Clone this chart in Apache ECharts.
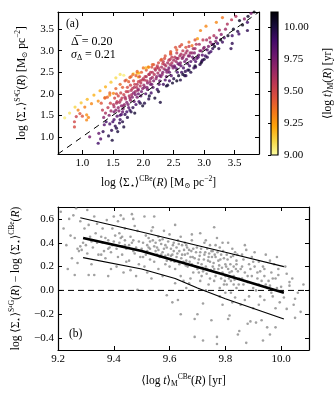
<!DOCTYPE html>
<html>
<head>
<meta charset="utf-8">
<script src="https://cdn.jsdelivr.net/npm/echarts@6/dist/echarts.min.js"></script>
<style>
html, body { margin: 0; padding: 0; background: #fff; }
#main { width: 334px; height: 400px; }
</style>
</head>
<body>
<div id="main"></div>
<script>
// panel (a): [log Sigma CBe, log Sigma S4G, <log t>_M]
const leftTracks = [
    [0.71,1.44,9.05],[0.79,1.55,9.08],[0.88,1.69,9.12],[0.98,1.79,9.15],[1.08,1.87,9.18],[1.19,1.97,9.2],
    [1.29,2.07,9.22],[1.38,2.16,9.2],[1.47,2.27,9.15],[1.55,2.37,9.1],[1.62,2.45,9.08],[1.68,2.43,9.05],
    [1.84,2.47,9.04],[1.9,2.48,9.22],[1.92,2.39,9.25],[2.09,2.62,9.28],
    [0.93,1.62,9.3],[1.04,1.69,9.32],[1.15,1.77,9.3],[1.26,1.83,9.28],[1.37,1.91,9.3],[1.45,1.97,9.28],[1.51,2.01,9.3],
    [0.87,1.35,9.5],[0.87,1.23,9.48],[0.96,1.54,9.45],[0.9,1.47,9.52],[1.0,1.48,9.45],
    [1.07,1.39,9.3],[1.07,1.51,9.28],[1.1,1.45,9.3],
    [1.12,1.0,9.75],[1.26,0.85,9.9],[1.3,0.95,9.85],[1.27,1.08,9.8]
];
const mainBand = [
    [1.31,1.78,9.45],[1.33,1.62,9.55],[1.35,1.45,9.7],[1.36,1.28,9.85],[1.38,1.55,9.62],[1.34,1.12,9.95],[1.39,1.35,9.9],[1.37,1.9,9.4],
    [1.41,1.92,9.4],[1.42,1.68,9.55],[1.43,1.02,9.98],[1.44,1.5,9.72],[1.45,1.3,9.88],[1.46,1.78,9.5],[1.47,1.6,9.65],[1.48,1.15,9.95],[1.49,0.92,10.0],[1.45,2.02,9.38],
    [1.51,1.75,9.58],[1.52,1.4,9.88],[1.53,1.9,9.5],[1.54,1.25,9.95],[1.55,1.62,9.7],[1.56,2.0,9.45],[1.57,1.82,9.55],[1.58,1.12,10.0],[1.59,1.68,9.68],[1.55,2.12,9.4],[1.52,1.58,9.75],[1.57,1.48,9.85],[1.59,1.95,9.5],
    [1.61,1.8,9.6],[1.62,1.4,9.92],[1.63,2.02,9.5],[1.64,1.52,9.85],[1.65,1.9,9.55],[1.66,2.15,9.42],[1.67,1.65,9.75],[1.68,1.23,10.0],[1.68,1.98,9.52],[1.69,1.75,9.68],[1.62,2.22,9.38],[1.66,1.58,9.8],[1.64,1.72,9.7],[1.61,1.32,9.95],
    [1.71,1.88,9.6],[1.72,2.05,9.52],[1.73,1.58,9.9],[1.74,2.15,9.48],[1.75,1.75,9.75],[1.76,2.28,9.42],[1.77,1.95,9.6],[1.78,1.62,9.92],[1.79,2.2,9.5],[1.79,1.85,9.68],[1.72,2.32,9.38],[1.76,1.68,9.82],[1.78,2.38,9.4],[1.74,1.45,9.98],
    [1.81,1.98,9.62],[1.82,2.12,9.55],[1.83,1.68,9.95],[1.84,2.3,9.48],[1.85,1.82,9.82],[1.86,2.22,9.52],[1.87,2.05,9.65],[1.88,2.42,9.42],[1.88,1.75,9.9],[1.89,2.15,9.58],[1.83,2.45,9.35],[1.86,1.55,10.02],[1.9,1.92,9.75],[1.84,2.02,9.7],
    [1.91,2.08,9.65],[1.92,2.28,9.52],[1.93,1.82,9.9],[1.94,2.4,9.48],[1.95,2.18,9.6],[1.96,1.95,9.82],[1.97,2.5,9.42],[1.98,2.32,9.55],[1.99,1.72,10.02],[1.99,2.12,9.7],[1.93,2.48,9.2],[1.96,2.25,9.58],[1.92,2.0,9.78],
    [2.01,2.2,9.65],[2.02,1.78,9.98],[2.03,2.4,9.52],[2.04,2.0,9.85],[2.05,2.55,9.45],[2.06,2.3,9.6],[2.07,2.1,9.78],[2.08,2.62,9.3],[2.09,2.45,9.55],[2.09,1.88,9.95],[2.04,2.6,9.18],[2.06,2.15,9.72],[2.02,2.32,9.58],
    [2.11,2.28,9.65],[2.12,2.5,9.55],[2.13,2.02,9.9],[2.14,2.62,9.48],[2.15,2.38,9.62],[2.16,2.15,9.82],[2.17,2.68,9.45],[2.18,2.45,9.58],[2.19,1.9,10.02],[2.19,2.58,9.52],[2.14,2.22,9.75],[2.12,2.35,9.68],
    [2.21,2.35,9.68],[2.22,2.6,9.52],[2.23,2.1,9.92],[2.24,2.48,9.62],[2.25,2.72,9.48],[2.26,2.22,9.85],[2.27,2.55,9.6],[2.28,1.8,10.0],[2.29,2.4,9.72],[2.29,2.78,9.45],[2.23,2.65,9.55],[2.27,2.3,9.8],
    [2.31,2.45,9.7],[2.32,2.7,9.52],[2.33,2.22,9.92],[2.34,2.58,9.62],[2.35,2.82,9.48],[2.36,2.32,9.85],[2.37,2.65,9.6],[2.38,2.18,10.0],[2.39,2.5,9.72],[2.36,2.88,9.45],[2.33,2.75,9.55],[2.38,2.4,9.8],
    [2.41,2.55,9.7],[2.42,2.78,9.55],[2.43,2.3,9.92],[2.44,2.68,9.62],[2.45,2.92,9.5],[2.46,2.42,9.85],[2.47,2.72,9.6],[2.48,2.25,10.02],[2.49,2.6,9.72],[2.45,2.98,9.45],[2.43,2.5,9.8],[2.47,2.85,9.55],
    [2.51,2.65,9.72],[2.52,2.85,9.58],[2.53,3.08,9.45],[2.54,2.75,9.65],[2.55,2.95,9.55],[2.56,2.5,9.9],[2.57,2.82,9.6],[2.58,2.42,10.02],[2.59,2.68,9.75],[2.55,2.58,9.85],[2.6,3.1,9.5],
    [2.61,2.72,9.72],[2.62,2.92,9.6],[2.63,2.5,9.92],[2.63,3.14,9.45],[2.64,2.82,9.68],[2.65,3.0,9.55],[2.66,2.6,9.88],[2.67,2.9,9.62],[2.68,2.42,10.0],[2.69,2.52,9.95],[2.61,2.32,9.98],
    [2.71,2.8,9.75],[2.72,3.0,9.62],[2.73,2.55,9.95],[2.74,2.88,9.7],[2.75,3.1,9.55],[2.76,2.65,9.9],[2.77,2.95,9.65],[2.78,2.5,9.98],[2.8,3.12,9.35],[2.7,2.42,9.95],
    [2.81,2.85,9.78],[2.82,3.05,9.62],[2.83,2.6,9.95],[2.84,2.95,9.72],[2.86,2.62,9.92],[2.87,3.15,9.58],[2.88,2.82,9.8],[2.89,3.28,9.25],[2.86,2.75,9.88],
    [2.91,2.9,9.78],[2.92,3.15,9.62],[2.93,2.68,9.95],[2.94,3.47,9.3],[2.95,3.0,9.72],[2.96,2.75,9.9],[2.97,2.78,9.95],[2.98,3.25,9.55],[2.99,3.05,9.7],
    [3.02,2.88,9.92],[3.03,3.57,9.3],[3.04,3.25,9.62],[3.05,2.85,9.95],[3.07,3.1,9.75],[3.08,2.95,9.95],[3.09,3.3,9.58],
    [3.11,2.98,9.9],[3.13,3.15,9.7],[3.14,3.05,9.95],[3.16,3.35,9.6],[3.17,3.1,10.05],[3.19,3.22,9.75],[3.2,3.66,9.3],
    [3.22,3.17,9.9],[3.24,3.05,9.95],[3.25,3.48,9.62],[3.27,3.25,10.08],[3.28,3.38,9.7],[3.3,3.2,9.92],[3.3,3.77,9.35],
    [3.33,3.3,9.85],[3.35,3.5,9.65],[3.38,3.62,9.6],[3.39,3.35,10.05],[3.44,3.05,9.95],[3.46,3.17,9.95],[3.46,3.35,9.9],[3.48,3.5,10.05],[3.45,3.72,9.55],
    [3.52,3.8,9.6],[3.55,3.45,9.95],[3.57,3.39,9.9],[3.58,3.7,10.05],[3.63,3.6,10.08],[3.66,3.74,9.7],[3.71,3.66,9.9],[3.71,3.47,9.95],[3.72,3.8,10.05],[3.82,3.9,10.1],[3.77,3.87,9.75]
];
// denser core of the band, plus its dark lower edge and red upper edge
const bandCore = [
    [1.52,1.7,9.62],[1.56,1.78,9.6],[1.6,1.6,9.72],[1.63,1.85,9.58],[1.67,1.72,9.7],[1.7,1.92,9.62],[1.73,1.8,9.72],[1.75,2.05,9.55],
    [1.78,1.9,9.66],[1.8,2.08,9.58],[1.82,1.92,9.72],[1.85,2.15,9.6],[1.87,1.98,9.74],[1.9,2.22,9.58],[1.92,2.1,9.68],[1.95,2.3,9.55],
    [1.97,2.05,9.78],[2.0,2.35,9.58],[2.02,2.15,9.72],[2.05,2.4,9.6],[2.07,2.25,9.68],[2.1,2.45,9.6],[2.12,2.22,9.75],[2.15,2.5,9.58],
    [2.17,2.3,9.72],[2.2,2.55,9.6],[2.22,2.4,9.7],[2.25,2.6,9.58],[2.27,2.42,9.75],[2.3,2.62,9.62],[2.32,2.5,9.72],[2.35,2.68,9.6],
    [2.37,2.55,9.75],[2.4,2.72,9.62],[2.42,2.6,9.75],[2.44,2.8,9.58],[2.47,2.65,9.72],[2.5,2.78,9.62],[2.52,2.62,9.8],[2.55,2.82,9.65],
    [2.57,2.7,9.75],[2.6,2.88,9.62],[2.62,2.65,9.82],[2.65,2.85,9.68],[2.68,2.75,9.78],[2.7,2.95,9.62],[2.73,2.7,9.85],[2.76,2.88,9.72],
    [2.78,2.75,9.85],[2.8,2.95,9.68],[2.83,2.8,9.82],[2.85,3.05,9.65],[2.9,2.85,9.85],[2.93,3.0,9.72],[2.97,2.9,9.85],[3.0,3.08,9.72],
    [3.05,3.02,9.85],[3.1,3.2,9.7],[3.15,3.15,9.88],[3.2,3.3,9.72],
    [1.5,1.35,9.9],[1.56,1.2,9.98],[1.62,1.5,9.88],[1.66,1.35,9.98],[1.7,1.52,9.95],[1.8,1.58,9.98],[1.95,1.78,9.98],[2.1,1.95,10.0],
    [2.25,2.05,10.02],[2.4,2.2,10.0],[2.5,2.35,9.98],[2.55,2.3,10.05],[2.65,2.45,10.02],[2.75,2.55,10.0],[2.85,2.65,10.02],[2.95,2.72,10.05],[3.0,2.8,10.03],
    [1.7,2.3,9.45],[1.8,2.4,9.4],[1.9,2.52,9.38],[2.0,2.6,9.35],[2.15,2.68,9.4],[2.3,2.8,9.42],[2.45,2.95,9.4],[2.55,3.02,9.42],
    [2.7,3.08,9.45],[2.75,3.2,9.4],[2.85,3.25,9.45]
];
const oneToOne = [[0.6, 0.6], [3.9, 3.9]];

// panel (b): [<log t>_M CBe, delta]
const deltaPoints = [
    [9.21,0.66],[9.22,0.52],[9.23,0.38],[9.24,0.6],[9.245,0.46],[9.25,0.27],[9.235,0.18],
    [9.255,0.63],[9.265,0.69],[9.26,0.44],[9.26,0.13],[9.27,0.35],[9.275,0.33],[9.28,0.37],[9.285,0.34],[9.29,0.4],[9.295,0.52],[9.28,0.58],[9.27,0.23],
    [9.305,0.675],[9.31,0.55],[9.3,0.38],[9.31,0.13],[9.32,0.41],[9.315,0.45],[9.325,0.36],[9.33,0.13],[9.335,0.48],[9.34,0.56],[9.345,0.3],[9.33,0.62],[9.32,0.22],[9.34,0.4],[9.305,0.31],
    [9.355,0.3],[9.36,0.52],[9.365,0.33],[9.37,0.27],[9.375,0.59],[9.38,0.42],[9.385,0.36],[9.39,0.32],[9.395,0.52],[9.4,0.62],[9.37,0.44],[9.39,0.18],[9.36,0.4],[9.38,0.12],[9.395,0.38],[9.355,0.45],
    [9.405,0.46],[9.41,0.35],[9.415,0.58],[9.42,0.4],[9.425,0.63],[9.43,0.3],[9.435,0.6],[9.44,0.42],[9.445,0.24],[9.41,0.2],[9.42,0.48],[9.43,0.37],[9.44,0.52],[9.415,0.28],[9.445,0.35],[9.425,0.44],[9.435,0.15],
    [9.455,0.38],[9.46,0.17],[9.465,0.64],[9.47,0.6],[9.475,0.54],[9.48,0.12],[9.485,0.005],[9.49,0.41],[9.46,0.45],[9.47,0.33],[9.48,0.36],[9.495,0.28],[9.455,0.25],[9.465,0.4],[9.485,0.5],[9.49,0.22],[9.475,0.31],[9.5,0.35],
    [9.505,0.4],[9.51,0.62],[9.515,0.3],[9.52,0.38],[9.525,0.44],[9.53,0.26],[9.535,0.5],[9.54,0.53],[9.545,0.62],[9.55,0.33],[9.51,0.2],[9.52,0.15],[9.53,0.35],[9.54,0.42],[9.505,0.28],[9.545,0.24],[9.525,0.36],[9.515,0.46],[9.535,0.1],[9.55,0.4],
    [9.555,0.36],[9.56,0.45],[9.565,0.28],[9.57,0.39],[9.575,0.32],[9.58,0.5],[9.585,0.22],[9.59,-0.04],[9.595,0.41],[9.6,0.47],[9.56,0.18],[9.57,0.3],[9.58,0.35],[9.59,0.25],[9.565,0.42],[9.575,0.12],[9.555,0.3],[9.585,0.38],[9.595,0.3],[9.6,0.2],
    [9.605,0.35],[9.61,-0.1],[9.615,0.4],[9.62,0.55],[9.625,0.28],[9.63,-0.08],[9.635,0.33],[9.64,-0.2],[9.645,0.38],[9.65,0.24],[9.61,0.3],[9.62,0.18],[9.63,0.42],[9.64,0.12],[9.605,0.25],[9.615,0.33],[9.625,0.36],[9.635,0.22],[9.645,0.3],[9.65,0.08],[9.62,0.06],[9.64,0.45],
    [9.655,0.3],[9.66,0.38],[9.665,0.2],[9.67,0.34],[9.675,0.28],[9.68,0.42],[9.685,0.15],[9.69,-0.24],[9.69,-0.39],[9.695,0.32],[9.7,-0.2],[9.66,0.25],[9.67,0.06],[9.68,0.22],[9.685,0.35],[9.655,0.4],[9.665,0.31],[9.675,0.1],[9.69,0.27],[9.7,0.18],[9.68,0.47],[9.66,0.02],
    [9.705,0.26],[9.71,0.48],[9.715,0.12],[9.72,-0.11],[9.72,-0.42],[9.725,0.3],[9.73,0.2],[9.735,0.35],[9.74,0.05],[9.745,0.24],[9.75,-0.25],[9.705,0.15],[9.71,0.32],[9.715,0.22],[9.725,0.4],[9.73,0.0],[9.735,0.18],[9.74,0.28],[9.745,0.1],[9.75,0.33],[9.72,0.16],[9.73,0.42],[9.71,0.08],[9.745,0.38],
    [9.755,0.2],[9.76,0.53],[9.765,0.12],[9.77,0.44],[9.77,-0.39],[9.77,-0.45],[9.775,0.25],[9.78,-0.05],[9.785,0.3],[9.79,0.15],[9.795,0.05],[9.8,0.22],[9.755,0.33],[9.76,0.08],[9.765,0.28],[9.775,0.18],[9.78,0.36],[9.785,0.1],[9.79,-0.12],[9.795,0.27],[9.8,0.12],[9.76,0.18],[9.78,0.02],[9.79,0.4],[9.8,-0.02],[9.765,0.38],
    [9.805,0.3],[9.81,-0.24],[9.815,-0.21],[9.815,0.15],[9.82,0.08],[9.825,0.35],[9.83,0.2],[9.835,-0.06],[9.84,0.25],[9.845,-0.37],[9.85,-0.34],[9.805,0.05],[9.81,0.18],[9.82,0.28],[9.825,-0.1],[9.83,0.12],[9.835,0.32],[9.84,0.02],[9.845,0.16],[9.85,0.1],[9.81,0.4],[9.82,-0.02],[9.83,0.05],[9.84,0.22],
    [9.855,0.18],[9.86,0.3],[9.865,0.05],[9.87,-0.08],[9.875,-0.44],[9.88,-0.28],[9.885,0.22],[9.89,-0.26],[9.895,0.12],[9.9,0.02],[9.855,-0.12],[9.86,0.1],[9.865,0.26],[9.87,0.15],[9.875,0.34],[9.88,0.07],[9.885,-0.05],[9.89,0.18],[9.895,0.28],[9.9,-0.15],[9.87,0.38],
    [9.905,0.2],[9.91,-0.27],[9.915,0.1],[9.92,0.24],[9.925,-0.05],[9.93,-0.25],[9.935,-0.42],[9.94,0.12],[9.945,0.05],[9.95,-0.31],[9.905,0.32],[9.91,0.0],[9.915,0.15],[9.92,-0.12],[9.93,0.08],[9.935,0.2],[9.94,-0.08],[9.945,0.3],[9.95,0.02],[9.925,0.16],
    [9.955,0.08],[9.96,-0.37],[9.965,0.15],[9.97,-0.05],[9.975,0.22],[9.98,-0.31],[9.985,0.02],[9.99,0.13],[9.995,-0.1],[10.0,0.03],[9.96,0.25],[9.97,0.1],[9.98,-0.15],[9.99,0.18],[9.965,-0.02],[9.985,0.28],
    [10.01,-0.06],[10.02,0.14],[10.02,-0.155],[10.03,0.07],[10.03,0.04],[10.04,0.1],[10.05,-0.07],[10.05,-0.23],[10.06,-0.02],[10.07,-0.18],[10.08,0.05],[10.015,0.2],[10.045,-0.12]
];
// the dense clump between the thin lines
const deltaCore = [
    [9.605,0.29],[9.612,0.38],[9.618,0.24],[9.628,0.31],[9.633,0.39],[9.642,0.27],[9.652,0.34],[9.658,0.21],[9.663,0.36],[9.672,0.24],
    [9.678,0.33],[9.683,0.28],[9.692,0.2],[9.698,0.36],[9.702,0.23],[9.708,0.29],[9.713,0.35],[9.718,0.19],[9.723,0.26],[9.728,0.32],
    [9.733,0.14],[9.738,0.25],[9.742,0.31],[9.748,0.17],[9.752,0.28],[9.758,0.23],[9.762,0.3],[9.768,0.15],[9.772,0.32],[9.778,0.21],
    [9.782,0.26],[9.788,0.19],[9.792,0.33],[9.798,0.08],[9.803,0.2],[9.808,0.26],[9.813,0.1],[9.818,0.22],[9.823,0.16],[9.828,0.29],
    [9.833,0.09],[9.838,0.18],[9.843,0.3],[9.848,0.05],[9.52,0.33],[9.53,0.41],[9.545,0.37],[9.56,0.34],[9.575,0.43],[9.585,0.29],
    [9.59,0.36],[9.47,0.42],[9.44,0.38],[9.43,0.45],[9.4,0.41],[9.38,0.35],[9.86,0.2],[9.88,0.12],[9.9,0.24],[9.92,0.05],
    [9.94,0.18],[9.96,0.04],[9.98,0.1]
];
const medianLine = [[9.29,0.44],[9.5,0.33],[9.8,0.13],[10.01,-0.02]];
const upperLine = [[9.28,0.61],[9.5,0.49],[9.8,0.32],[10.01,0.2]];
const lowerLine = [[9.29,0.275],[9.5,0.18],[9.62,0.1],[9.7,0.02],[9.8,-0.07],[10.01,-0.24]];
const zeroLine = [[9.2,0],[10.1,0]];

// ticks
const ticksA = [1.0, 1.5, 2.0, 2.5, 3.0, 3.5];
const ticksBx = [9.2, 9.4, 9.6, 9.8, 10.0];
const ticksBy = [-0.4, -0.2, 0.0, 0.2, 0.4, 0.6];
const ticksCbar = [9.0, 9.25, 9.5, 9.75, 10.0];
const cbarRange = [9.0, 10.12];

// inferno, reversed (young = light)
const infernoR = ['#fcffa4','#f6d746','#fca50a','#f37819','#dd513a','#bc3754','#932667','#6a176e','#420a68','#160b39','#000004'];

const serif = '"Liberation Serif", "DejaVu Serif", serif';
const rich = {
    sup: { fontFamily: serif, fontSize: 7.5, lineHeight: 8, verticalAlign: 'top', color: '#000' },
    sub: { fontFamily: serif, fontSize: 7.5, lineHeight: 8, verticalAlign: 'bottom', color: '#000' },
    i: { fontFamily: serif, fontSize: 11.5, lineHeight: 15, fontStyle: 'italic', color: '#000' }
};
const nameStyle = { fontFamily: serif, fontSize: 11.5, lineHeight: 15, color: '#000', rich: rich };
const line = { color: '#000', width: 1.2 };
const tickStyle = { color: '#000', width: 1 };
const lab = { fontFamily: serif, fontSize: 11, color: '#000' };
const fmt1 = v => v.toFixed(1).replace('-', '\u2212');

function axis(grid, pos, lo, hi, ticks, withLabels, fmt) {
    return {
        gridIndex: grid, type: 'value', position: pos, min: lo, max: hi,
        axisLine: { show: true, onZero: false, lineStyle: line },
        axisTick: { show: true, inside: true, length: 4, customValues: ticks, lineStyle: tickStyle },
        axisLabel: withLabels ? Object.assign({ show: true, customValues: ticks, formatter: fmt, margin: 4 }, lab) : { show: false },
        splitLine: { show: false }
    };
}

const xA = axis(0, 'bottom', 0.6, 3.9, ticksA, true, fmt1);
xA.name = 'log ⟨Σ{sub|⋆}⟩{sup|CBe}({i|R}) [M{sub|⊙} pc{sup|−2}]';
xA.nameLocation = 'middle'; xA.nameGap = 21; xA.nameTextStyle = nameStyle;
const yA = axis(0, 'left', 0.6, 3.9, ticksA, true, fmt1);
yA.name = 'log ⟨Σ{sub|⋆}⟩{sup|S⁴G}({i|R}) [M{sub|⊙} pc{sup|−2}]';
yA.nameLocation = 'middle'; yA.nameGap = 24; yA.nameRotate = 90; yA.nameTextStyle = nameStyle;

const xB = axis(1, 'bottom', 9.2, 10.1, ticksBx, true, fmt1);
xB.name = '⟨log {i|t}⟩{sub|M}{sup|CBe}({i|R}) [yr]';
xB.nameLocation = 'middle'; xB.nameGap = 23; xB.nameTextStyle = nameStyle;
const yB = axis(1, 'left', -0.5, 0.7, ticksBy, true, fmt1);
yB.name = 'log ⟨Σ{sub|⋆}⟩{sup|S⁴G}({i|R}) − log ⟨Σ{sub|⋆}⟩{sup|CBe}({i|R})';
yB.nameLocation = 'middle'; yB.nameGap = 34; yB.nameRotate = 90;
yB.nameTextStyle = Object.assign({}, nameStyle, { fontSize: 11.5 });

const yC = axis(2, 'right', cbarRange[0], cbarRange[1], ticksCbar, true, v => v.toFixed(2));
yC.axisLine = { show: false };
yC.axisTick.length = 3;
yC.axisLabel.margin = 6;
yC.name = '⟨log {i|t}⟩{sub|M}({i|R}) [yr]';
yC.nameLocation = 'middle'; yC.nameGap = 42; yC.nameRotate = 90; yC.nameTextStyle = nameStyle;

const chart = echarts.init(document.getElementById('main'), null, { renderer: 'canvas' });

chart.setOption({
    animation: false,
    backgroundColor: '#fff',
    grid: [
        { left: 58, top: 12, width: 201, height: 142, containLabel: false, outerBoundsMode: 'none' },
        { left: 58, top: 207, width: 251, height: 143, containLabel: false, outerBoundsMode: 'none' },
        { left: 271, top: 12, width: 7, height: 143, containLabel: false, outerBoundsMode: 'none' }
    ],
    xAxis: [
        xA,
        axis(0, 'top', 0.6, 3.9, ticksA, false),
        xB,
        axis(1, 'top', 9.2, 10.1, ticksBx, false),
        { gridIndex: 2, type: 'value', min: 0, max: 1, show: false }
    ],
    yAxis: [
        yA,
        axis(0, 'right', 0.6, 3.9, ticksA, false),
        yB,
        axis(1, 'right', -0.5, 0.7, ticksBy, false),
        yC
    ],
    visualMap: [{
        type: 'continuous', show: false, seriesIndex: [0, 1, 2], dimension: 2,
        min: cbarRange[0], max: cbarRange[1], inRange: { color: infernoR }
    }],
    series: [
        { type: 'scatter', xAxisIndex: 0, yAxisIndex: 0, data: leftTracks, symbolSize: 3.2, silent: true },
        { type: 'scatter', xAxisIndex: 0, yAxisIndex: 0, data: mainBand, symbolSize: 3.2, silent: true },
        { type: 'scatter', xAxisIndex: 0, yAxisIndex: 0, data: bandCore, symbolSize: 3.2, silent: true },
        { type: 'line', xAxisIndex: 0, yAxisIndex: 0, data: oneToOne, symbol: 'none', silent: true, z: 5,
          lineStyle: { color: '#000', width: 1, type: [6, 5] } },
        { type: 'scatter', xAxisIndex: 2, yAxisIndex: 2, data: deltaPoints, symbolSize: 2.6, silent: true,
          itemStyle: { color: '#8a8a8a' } },
        { type: 'scatter', xAxisIndex: 2, yAxisIndex: 2, data: deltaCore, symbolSize: 2.6, silent: true,
          itemStyle: { color: '#8a8a8a' } },
        { type: 'line', xAxisIndex: 2, yAxisIndex: 2, data: zeroLine, symbol: 'none', silent: true, z: 4,
          lineStyle: { color: '#000', width: 1, type: [6, 4] } },
        { type: 'line', xAxisIndex: 2, yAxisIndex: 2, data: medianLine, symbol: 'none', silent: true, z: 5,
          lineStyle: { color: '#000', width: 2.6 } },
        { type: 'line', xAxisIndex: 2, yAxisIndex: 2, data: upperLine, symbol: 'none', silent: true, z: 5,
          lineStyle: { color: '#000', width: 1.2 } },
        { type: 'line', xAxisIndex: 2, yAxisIndex: 2, data: lowerLine, symbol: 'none', silent: true, z: 5,
          lineStyle: { color: '#000', width: 1.2 } },
        {
            // colour bar
            type: 'custom', xAxisIndex: 4, yAxisIndex: 4, data: [[0, cbarRange[0]]], silent: true, z: 1,
            renderItem: function (params, api) {
                const lo = api.coord([0, cbarRange[0]]);
                const hi = api.coord([1, cbarRange[1]]);
                return {
                    type: 'rect',
                    shape: { x: lo[0], y: hi[1], width: hi[0] - lo[0], height: lo[1] - hi[1] },
                    style: {
                        fill: new echarts.graphic.LinearGradient(0, 1, 0, 0,
                            infernoR.map((c, k) => ({ offset: k / (infernoR.length - 1), color: c }))),
                        stroke: '#000', lineWidth: 1.2
                    }
                };
            }
        }
    ],
    graphic: [
        { type: 'text', left: 66, top: 18, style: { text: '(a)', fontFamily: serif, fontSize: 11.5, fill: '#000' } },
        { type: 'text', left: 71, top: 36, style: { text: 'Δ̅ = 0.20', fontFamily: serif, fontSize: 12, fill: '#000' } },
        { type: 'text', left: 71, top: 49, style: {
            text: '{i|σ}{sub|Δ} = 0.21', fontFamily: serif, fontSize: 12, fill: '#000',
            rich: {
                i: { fontFamily: serif, fontSize: 12, fontStyle: 'italic', lineHeight: 14 },
                sub: { fontFamily: serif, fontSize: 8, lineHeight: 8, verticalAlign: 'bottom' }
            } } },
        { type: 'text', left: 69, top: 328, style: { text: '(b)', fontFamily: serif, fontSize: 11.5, fill: '#000' } }
    ]
});
</script>
</body>
</html>
